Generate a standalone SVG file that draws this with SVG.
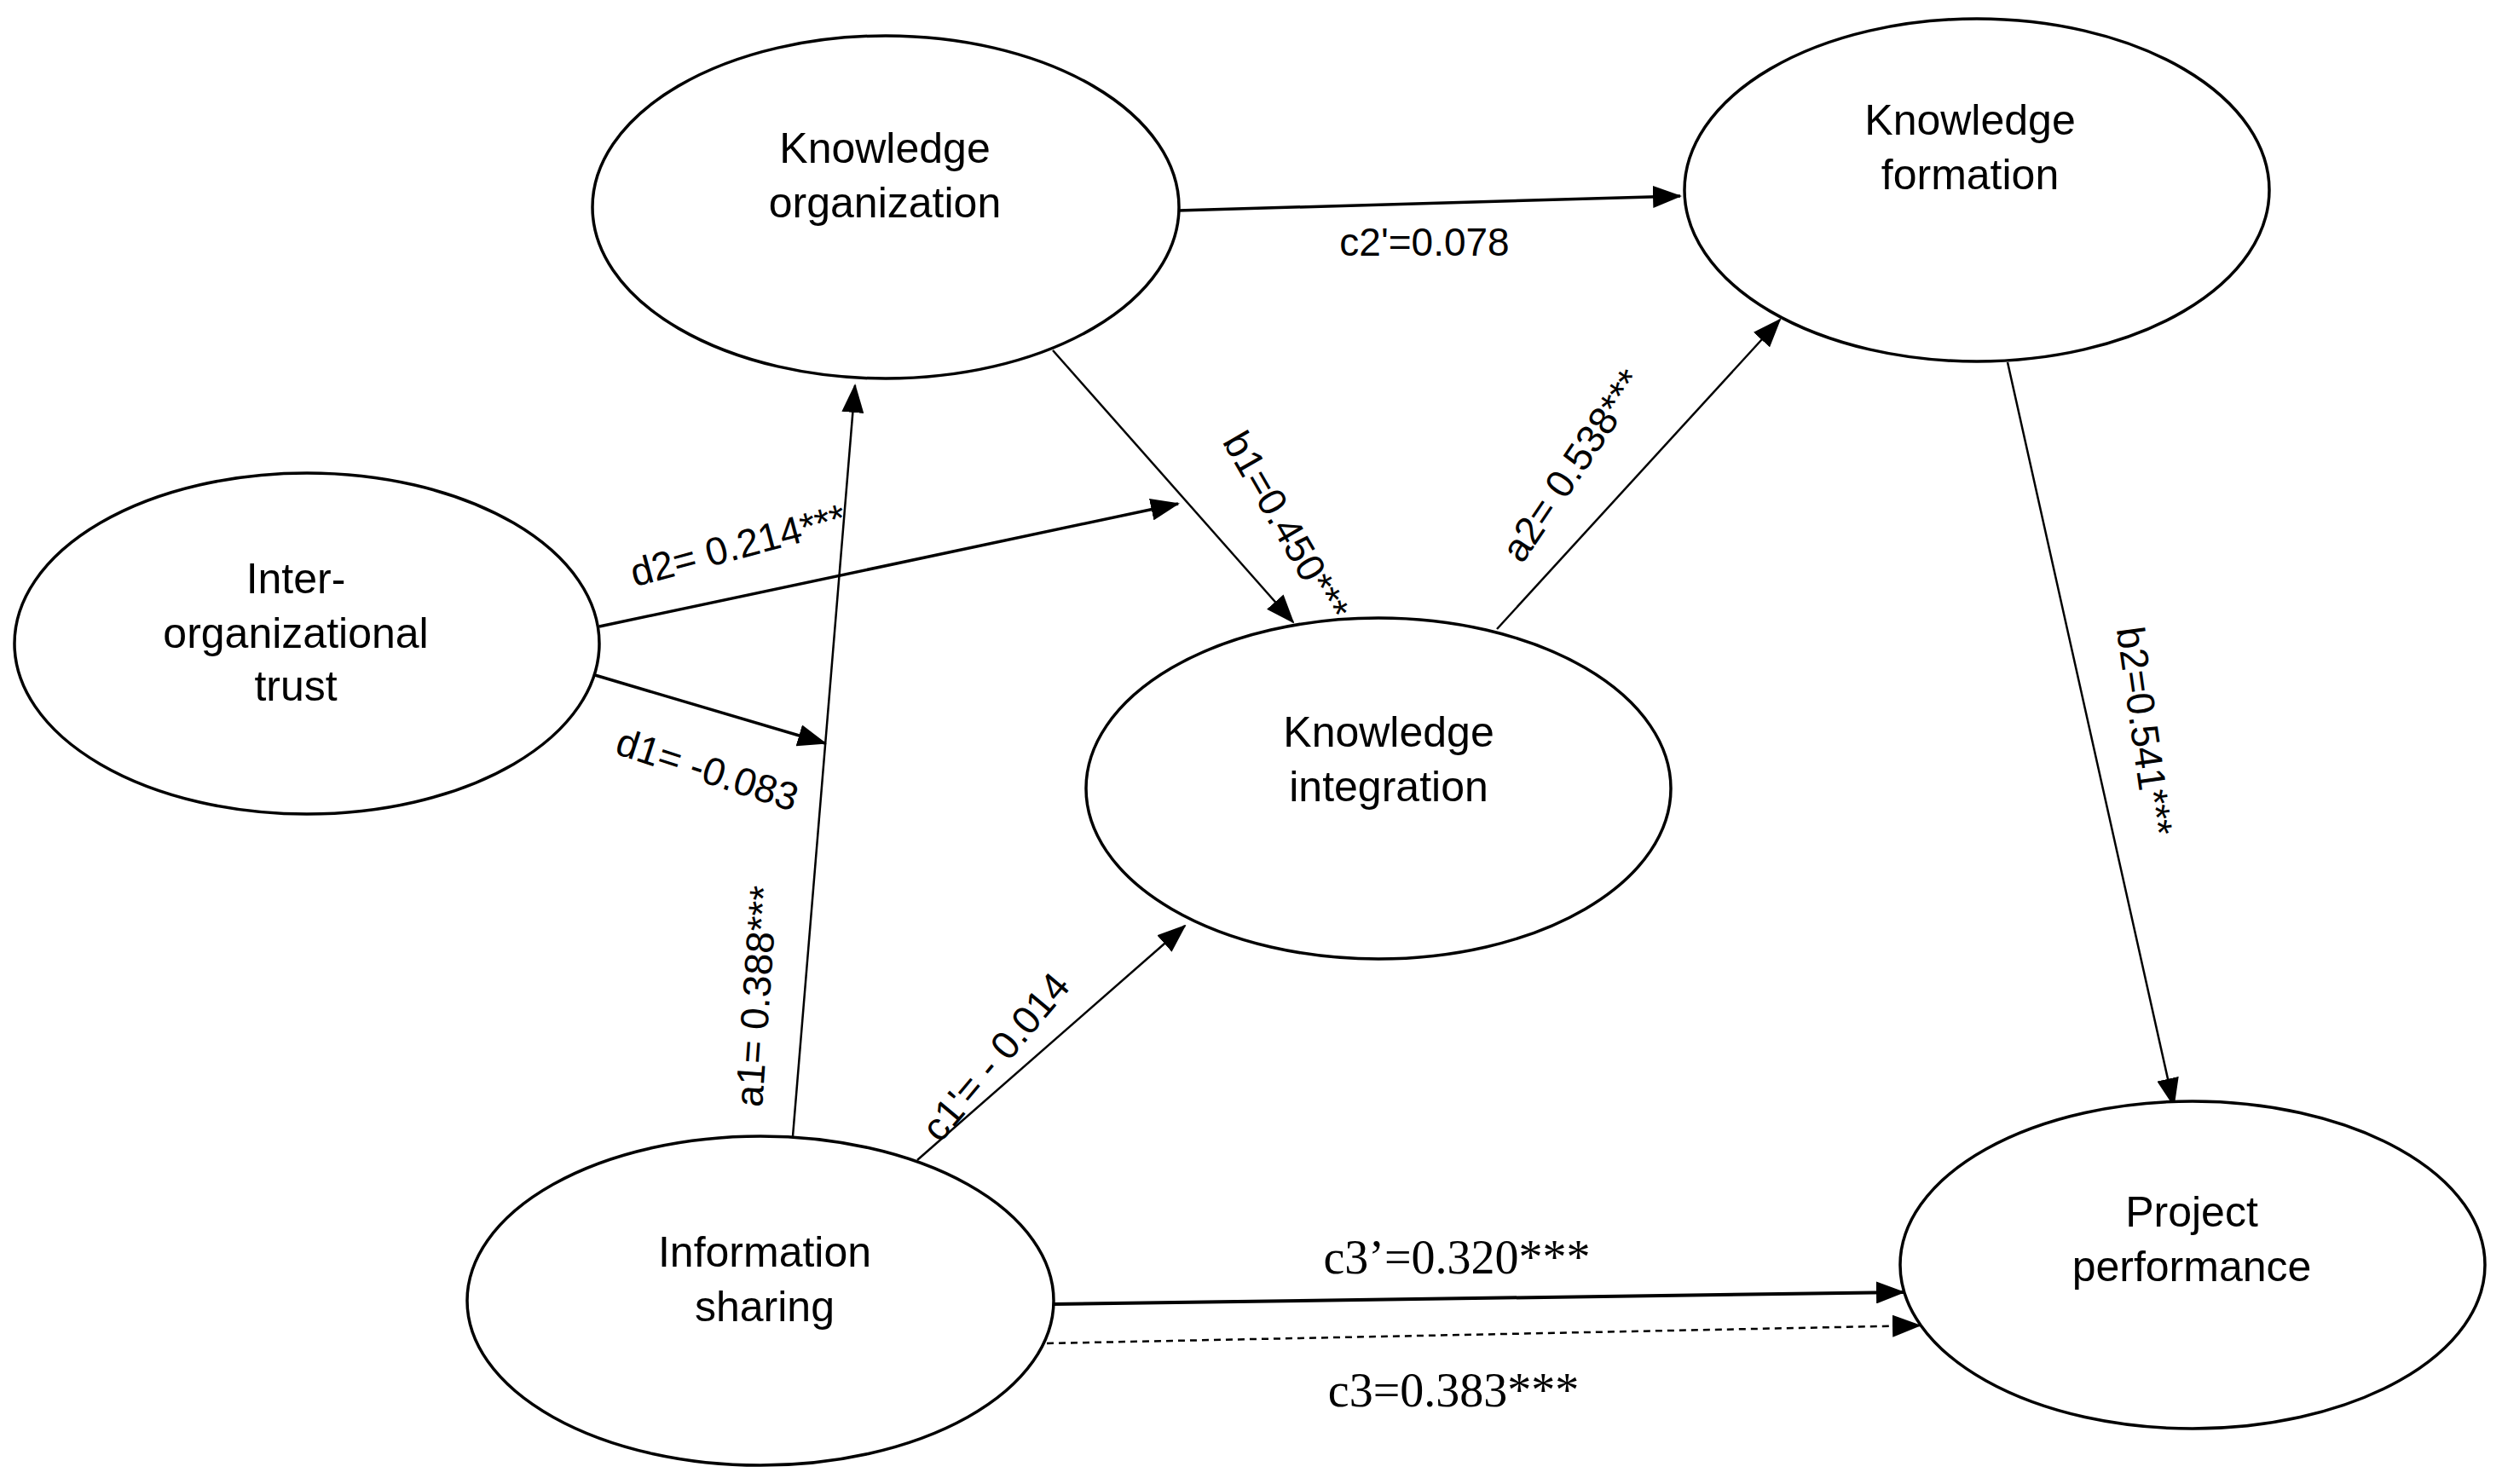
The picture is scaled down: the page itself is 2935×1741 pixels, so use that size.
<svg xmlns="http://www.w3.org/2000/svg" width="2935" height="1741" viewBox="0 0 2935 1741">
<style>
.n{fill:#fff;stroke:#000;stroke-width:3.5}
.t{font-family:"Liberation Sans",Arial,sans-serif;font-size:50px;text-anchor:middle;fill:#000}
.l{font-family:"Liberation Sans",Arial,sans-serif;font-size:46px;text-anchor:middle;fill:#000}
.s{font-family:"Liberation Serif","Times New Roman",serif;font-size:56px;text-anchor:middle;fill:#000}
.c{stroke:#000;stroke-width:2.5;fill:none;marker-end:url(#ah)}
</style>
<defs>
<marker id="ah" markerUnits="userSpaceOnUse" markerWidth="34" markerHeight="26" refX="32" refY="13" orient="auto">
<path d="M0,0 L34,13 L0,26 Z" fill="#000"/>
</marker>
</defs>
<rect width="2935" height="1741" fill="#fff"/>
<g id="connectors">
<line class="c" x1="1382" y1="247" x2="1971" y2="230" style="stroke-width:3.5"/>
<line class="c" x1="1235" y1="411" x2="1517" y2="730"/>
<line class="c" x1="703" y1="735" x2="1382" y2="591" style="stroke-width:3.5"/>
<line class="c" x1="698" y1="792" x2="968" y2="872" style="stroke-width:3.5"/>
<line class="c" x1="930" y1="1333" x2="1003" y2="452"/>
<line class="c" x1="1756" y1="738" x2="2088" y2="375"/>
<line class="c" x1="1076" y1="1361" x2="1390" y2="1086"/>
<line class="c" x1="2355" y1="425" x2="2550" y2="1297"/>
<line class="c" x1="1235" y1="1530" x2="2233" y2="1516" style="stroke-width:4"/>
<line class="c" x1="1228" y1="1576" x2="2252" y2="1555" style="stroke-dasharray:8,6"/>
<text class="l" x="1671" y="300">c2'=0.078</text>
<text class="l" transform="translate(1495,625) rotate(60)">b1=0.450***</text>
<text class="l" transform="translate(870,655) rotate(-15)">d2= 0.214***</text>
<text class="l" transform="translate(825,918) rotate(18)">d1= -0.083</text>
<text class="l" transform="translate(903,1170) rotate(-86)">a1= 0.388***</text>
<text class="l" transform="translate(1858,555) rotate(-56)">a2= 0.538***</text>
<text class="l" transform="translate(1180,1250) rotate(-50)">c1'= - 0.014</text>
<text class="l" transform="translate(2500,860) rotate(82)">b2=0.541***</text>
<text class="s" x="1709" y="1494">c3’=0.320***</text>
<text class="s" x="1705" y="1650">c3=0.383***</text>
</g>
<g id="ko"><ellipse class="n" cx="1039" cy="243" rx="344" ry="201"/><text class="t" x="1038" y="191">Knowledge</text><text class="t" x="1038" y="255">organization</text></g>
<g id="iot"><ellipse class="n" cx="360" cy="755" rx="343" ry="200"/><text class="t" x="347" y="696">Inter-</text><text class="t" x="347" y="760">organizational</text><text class="t" x="347" y="822">trust</text></g>
<g id="kf"><ellipse class="n" cx="2319" cy="223" rx="343" ry="201"/><text class="t" x="2311" y="158">Knowledge</text><text class="t" x="2311" y="222">formation</text></g>
<g id="ki"><ellipse class="n" cx="1617" cy="925" rx="343" ry="200"/><text class="t" x="1629" y="876">Knowledge</text><text class="t" x="1629" y="940">integration</text></g>
<g id="is"><ellipse class="n" cx="892" cy="1526" rx="344" ry="193"/><text class="t" x="897" y="1486">Information</text><text class="t" x="897" y="1550">sharing</text></g>
<g id="pp"><ellipse class="n" cx="2572" cy="1484" rx="343" ry="192"/><text class="t" x="2571" y="1439">Project</text><text class="t" x="2571" y="1503">performance</text></g>
</svg>
